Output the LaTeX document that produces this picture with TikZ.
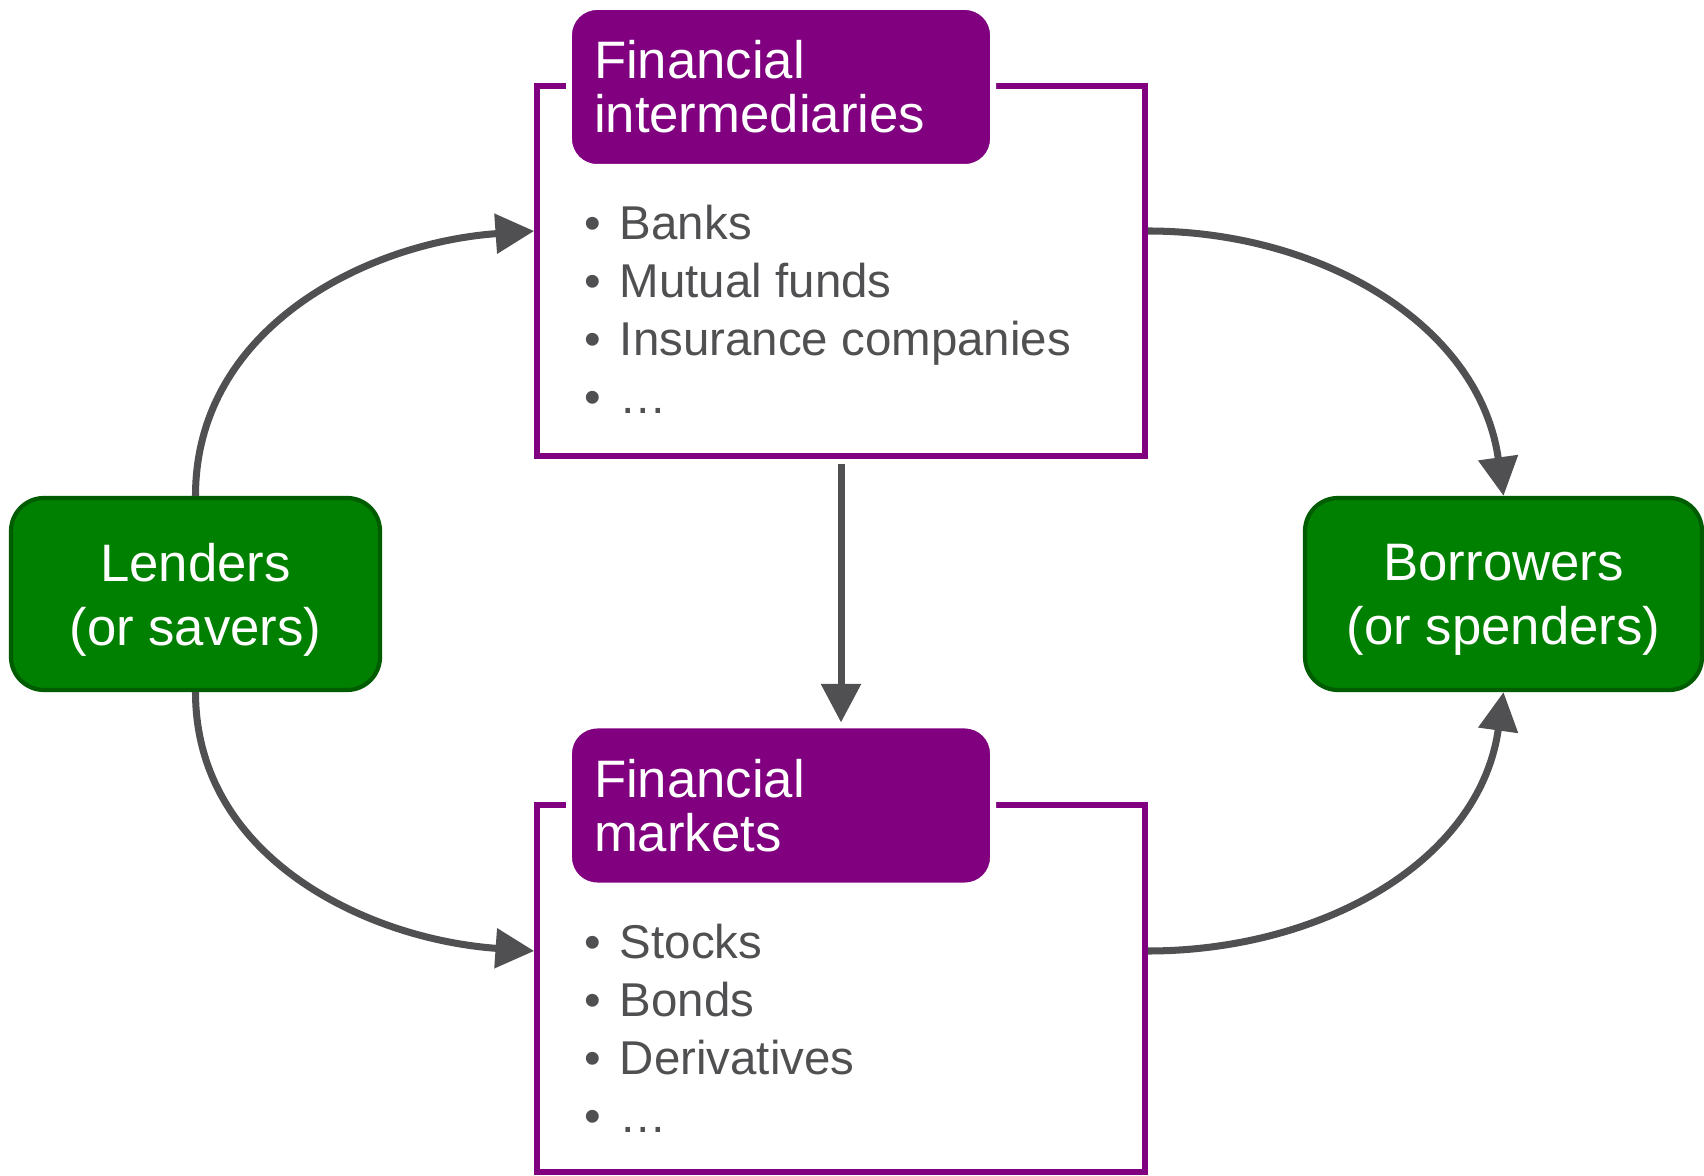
\documentclass[tikz,border=0pt]{standalone}
\usepackage{fontspec}
\setmainfont{Liberation Sans}
\usepackage{xcolor}
\usetikzlibrary{arrows.meta, positioning}

\definecolor{finpurple}{HTML}{800080}
\definecolor{fingreen}{HTML}{008000}
\definecolor{fingreenline}{HTML}{005C00}
\definecolor{flowgray}{HTML}{505052}
\newcommand{\bul}{\makebox[0.35cm][l]{\textbullet}}

\begin{document}
\begin{tikzpicture}[
  agentbox/.style={draw=fingreenline, fill=fingreen, line width=1.2pt, rounded corners=0.33cm, text=white, align=center, text depth=0pt, font=\fontsize{15}{18.2}\selectfont},
  holder/.style={draw=finpurple, line width=1.6pt, minimum width=6.08cm},
  tabbox/.style={fill=finpurple, draw=white, line width=1.7pt, rounded corners=0.28cm, text=white, align=left, text width=3.74cm, inner xsep=0.25cm, minimum height=1.60cm, font=\fontsize{15}{15.4}\selectfont},
  items/.style={anchor=north west, inner sep=0pt, align=left, text=flowgray, font=\fontsize{13.5}{16.5}\selectfont},
  flow/.style={-{Triangle[length=11pt, width=11pt]}, line width=2pt, draw=flowgray},
]
\useasboundingbox (0,0) rectangle (17.04,11.75);

% Frames for the two channels
\node[holder, minimum height=3.70cm] (inter) at (8.41, 9.04) {};
\node[holder, minimum height=3.67cm] (mkt) at (8.41, 1.865) {};

% Title tabs sitting on the frames
\node[tabbox] (itab) at (7.81, 10.88) {Financial\\intermediaries};
\node[tabbox] (mtab) at (7.81, 3.695) {Financial\\markets};

% Bullet lists
\node[items] (ilist) at ([xshift=0.5cm, yshift=-1.21cm]inter.north west) {\bul Banks\\\bul Mutual funds\\\bul Insurance companies\\\bul \dots};
\node[items] (mlist) at ([xshift=0.5cm, yshift=-1.21cm]mkt.north west) {\bul Stocks\\\bul Bonds\\\bul Derivatives\\\bul \dots};

% Lenders and borrowers
\node[agentbox, minimum width=3.69cm, minimum height=1.92cm] (lend) at (1.955, 5.81) {Lenders\\(or savers)};
\node[agentbox, minimum width=3.97cm, minimum height=1.92cm] (borr) at (15.035, 5.81) {Borrowers\\(or spenders)};

% Flows of funds
\draw[flow] (lend.north) to[out=90, in=184] ([yshift=0.4cm]inter.west);
\draw[flow] ([yshift=0.4cm]inter.east) to[out=0, in=98] (borr.north);
\draw[flow] (lend.south) to[out=270, in=176] ([yshift=0.375cm]mkt.west);
\draw[flow] ([yshift=0.375cm]mkt.east) to[out=0, in=262] (borr.south);
\draw[flow] ([yshift=-0.05cm]inter.south) -- (inter.south |- mtab.north);
\end{tikzpicture}
\end{document}
